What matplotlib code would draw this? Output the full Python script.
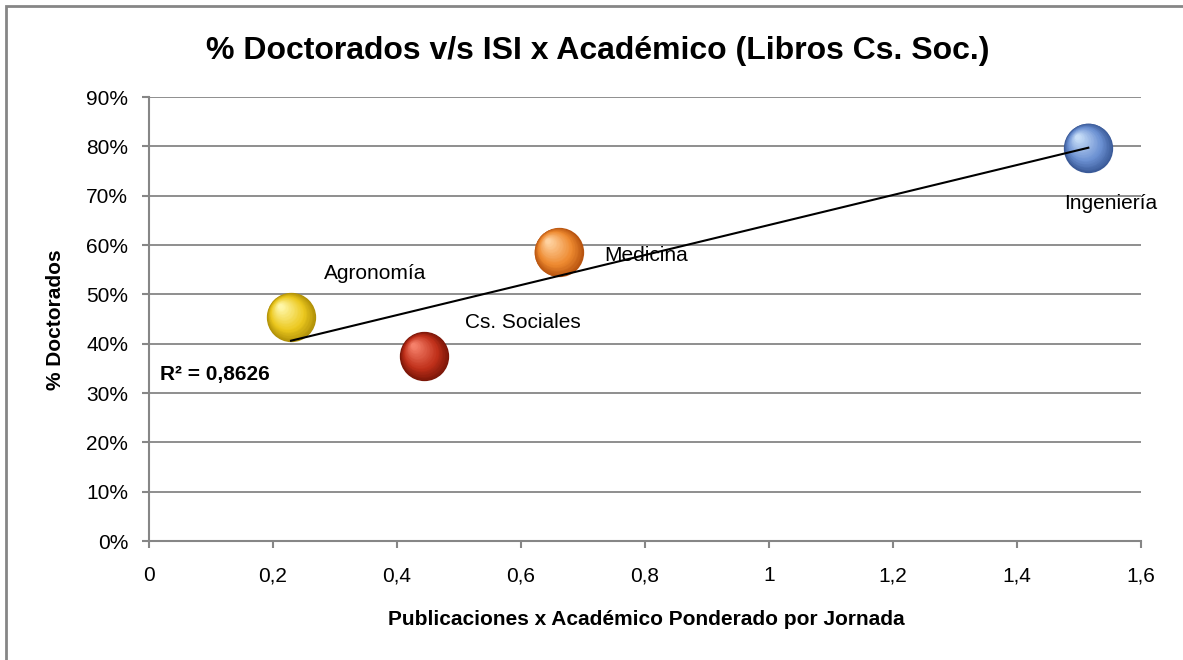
import numpy as np
import matplotlib
matplotlib.use("Agg")
import matplotlib.pyplot as plt
import matplotlib.transforms as mtransforms
from matplotlib.colors import to_rgb
from matplotlib.patches import Rectangle

plt.rcParams['font.family'] = ['Liberation Sans', 'DejaVu Sans']

# data
areas = ['Agronomía', 'Cs. Sociales', 'Medicina', 'Ingeniería']
pubs = [0.229, 0.444, 0.661, 1.515]
doct = [0.454, 0.375, 0.586, 0.797]
x_ticks = [0, 0.2, 0.4, 0.6, 0.8, 1.0, 1.2, 1.4, 1.6]
x_tick_labels = ['0', '0,2', '0,4', '0,6', '0,8', '1', '1,2', '1,4', '1,6']
y_ticks = [i / 10 for i in range(10)]
y_tick_labels = ['%d%%' % (i * 10) for i in range(10)]

# sphere colours (dark rim, body, highlight)
sphere_colors = [
    ('#b09008', '#ecc81e', '#fff7a8'),
    ('#7a1608', '#c0301a', '#f5806a'),
    ('#b85410', '#ee8a30', '#ffd2a0'),
    ('#3a5a98', '#6b90d2', '#c8def8'),
]
# label offsets in pixels from each point
label_offsets = [(84, 44), (99, 34), (87, -4), (22, -56)]


def blend(c1, c2, t):
    a = np.array(to_rgb(c1))
    b = np.array(to_rgb(c2))
    return tuple(a + (b - a) * t)


def draw_sphere(ax, x, y, cols, diam=35.5, n=30):
    """Fake 3D ball: stacked circles shrinking toward an upper-left highlight"""
    dark, body, light = cols
    for i in range(n):
        t = i / (n - 1)
        d = diam * (1 - 0.9 * t)
        off = diam * 0.22 * t
        tr = mtransforms.offset_copy(ax.transData, fig=ax.figure,
                                     x=-off, y=off, units='points')
        if t < 0.35:
            c = blend(dark, body, t / 0.35)
        else:
            c = blend(body, light, (t - 0.35) / 0.65)
        ax.scatter([x], [y], s=d ** 2, color=c, transform=tr,
                   linewidths=0, zorder=3 + i * 0.01)


fig = plt.figure(figsize=(11.83, 6.60), dpi=100)
ax = fig.add_axes([0.126, 0.1803, 0.8385, 0.6727])

ax.set_xlim(0, 1.6)
ax.set_ylim(0, 0.9)
ax.set_xticks(x_ticks)
ax.set_xticklabels(x_tick_labels)
ax.set_yticks(y_ticks)
ax.set_yticklabels(y_tick_labels)
ax.tick_params(axis='both', labelsize=15, colors='#868686', labelcolor='black',
               length=5, width=1.5, direction='out')
ax.tick_params(axis='x', pad=13)
ax.tick_params(axis='y', pad=10)

for side in ['top', 'right']:
    ax.spines[side].set_visible(False)
for side in ['left', 'bottom']:
    ax.spines[side].set_color('#868686')
    ax.spines[side].set_linewidth(1.5)
ax.yaxis.grid(True, color='#868686', linewidth=1.3)
ax.set_axisbelow(True)

for i, name in enumerate(areas):
    draw_sphere(ax, pubs[i], doct[i], sphere_colors[i])
    ax.annotate(name, (pubs[i], doct[i]), xytext=label_offsets[i],
                textcoords='offset pixels', ha='center', va='center',
                fontsize=15, zorder=6)

# linear trendline
slope, intercept = np.polyfit(pubs, doct, 1)
xs = np.array([min(pubs), max(pubs)])
ax.plot(xs, slope * xs + intercept, color='black', linewidth=1.5, zorder=5)
ax.text(0.011, 0.374, 'R² = 0,8626', transform=ax.transAxes,
        fontsize=15, fontweight='bold', ha='left', va='center')

fig.text(0.505, 0.922, '% Doctorados v/s ISI x Académico (Libros Cs. Soc.)',
         ha='center', va='center', fontsize=23, fontweight='bold')
fig.text(0.047, 0.515, '% Doctorados', rotation=90, ha='center', va='center',
         fontsize=15, fontweight='bold')
fig.text(0.546, 0.061, 'Publicaciones x Académico Ponderado por Jornada',
         ha='center', va='center', fontsize=15, fontweight='bold')

# chart border (only left and top edges show in the crop)
fig.patches.append(Rectangle((6 / 1183, -0.1), 1.2, (654 / 660) + 0.1,
                             transform=fig.transFigure, fill=False,
                             edgecolor='#868686', linewidth=2))

fig.savefig('out.png', dpi=100)
